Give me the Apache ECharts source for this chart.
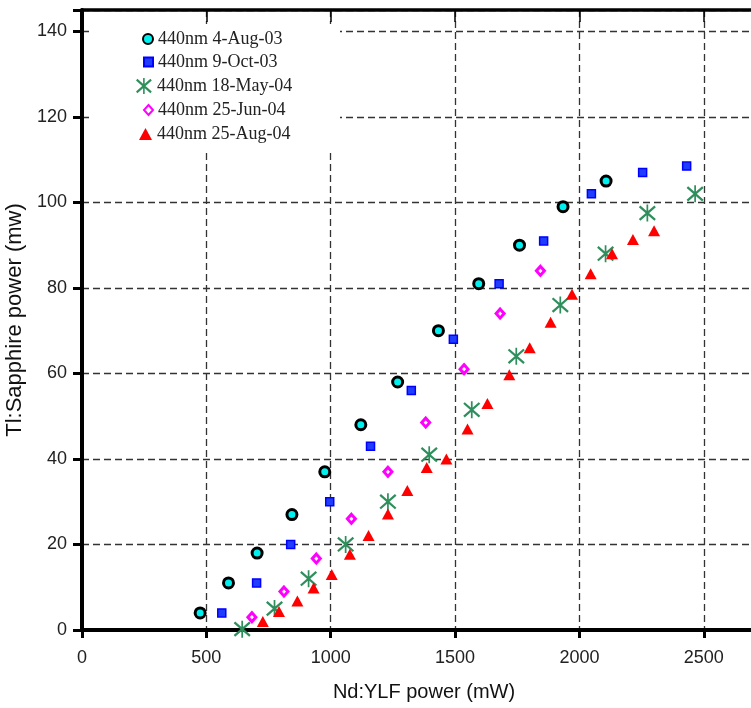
<!DOCTYPE html>
<html>
<head>
<meta charset="utf-8">
<script src="https://cdn.jsdelivr.net/npm/echarts@6/dist/echarts.min.js"></script>
<style>
html,body{margin:0;padding:0;background:#fff;}
#chart{width:751px;height:708px;}
</style>
</head>
<body>
<div id="chart"></div>
<script>
// Series names
var seriesNames = ['440nm 4-Aug-03', '440nm 9-Oct-03', '440nm 18-May-04', '440nm 25-Jun-04', '440nm 25-Aug-04'];

// 440nm 4-Aug-03 (circles)
var aug03X = [475, 589, 704, 844, 976, 1121, 1269, 1433, 1595, 1759, 1934, 2107];
var aug03Y = [4, 11, 18, 27, 37, 48, 58, 70, 81, 90, 99, 105];

// 440nm 9-Oct-03 (squares)
var oct03X = [562, 702, 839, 996, 1160, 1324, 1493, 1677, 1856, 2048, 2254, 2431];
var oct03Y = [4, 11, 20, 30, 43, 56, 68, 81, 91, 102, 107, 108.5];

// 440nm 18-May-04 (asterisks)
var may04X = [644, 774, 911, 1060, 1230, 1396, 1567, 1746, 1923, 2105, 2273, 2465];
var may04Y = [0.2, 5, 12, 20, 30, 41, 51.5, 64, 76, 88, 97.5, 102];

// 440nm 25-Jun-04 (hollow diamonds)
var jun04X = [683, 812, 942, 1083, 1230, 1382, 1536, 1681, 1843];
var jun04Y = [3, 9, 16.7, 26, 37, 48.5, 61, 74, 84];

// 440nm 25-Aug-04 (triangles)
var aug04X = [727, 792, 866, 931, 1004, 1077, 1152, 1230, 1308, 1386, 1465, 1550, 1630, 1718, 1800, 1884, 1970, 2045, 2131, 2215, 2300];
var aug04Y = [2, 4.3, 6.8, 9.8, 13, 17.7, 22.1, 27.1, 32.6, 38, 40, 47, 53, 59.7, 66, 72, 78.5, 83.3, 88, 91.3, 93.4];

// Axis settings
var xTickValues = [0, 500, 1000, 1500, 2000, 2500];
var yTickValues = [0, 20, 40, 60, 80, 100, 120, 140];
var xAxisTitle = 'Nd:YLF power (mW)';
var yAxisTitle = 'Tl:Sapphire power (mw)';

function pairs(xs, ys) { return xs.map(function (x, i) { return [x, ys[i]]; }); }

var asteriskPath = 'path://M9 0 L11 0 L11 20 L9 20 Z M1.86 1.03 L19.86 17.03 L18.14 18.97 L0.14 2.97 Z M19.86 2.97 L1.86 18.97 L0.14 17.03 L18.14 1.03 Z';

// legend layout (per item: icon box size, row centre)
var legendIconSizes = [[10, 10], [9, 9], [16, 16], [9, 10], [13, 12]];
var legendRowCentres = [39, 62, 86, 110, 134];
var legendTextLeft = 157;

var chart = echarts.init(document.getElementById('chart'), null, {renderer: 'canvas'});

var gridLine = {show: true, lineStyle: {color: '#333', width: 1.3, type: [7, 4]}};

var legends = seriesNames.map(function (name, i) {
  var w = legendIconSizes[i][0], h = legendIconSizes[i][1];
  return {
    orient: 'horizontal',
    left: legendTextLeft - 5 - w,
    top: legendRowCentres[i] - 10,
    padding: 0,
    itemWidth: w, itemHeight: h,
    textStyle: {fontFamily: 'Liberation Serif', fontSize: 18, color: '#222', lineHeight: 20},
    data: [name],
    z: 5
  };
});

chart.setOption({
  animation: false,
  backgroundColor: '#fff',
  grid: {left: 82, top: 10, right: -15, bottom: 78, containLabel: false, outerBoundsMode: 'none'},
  graphic: {elements: [{type: 'rect', left: 89, top: 24, z: 3,
    shape: {width: 251, height: 126}, style: {fill: '#fff'}}]},
  legend: legends,
  xAxis: [{
    type: 'value', min: 0, max: 2750, interval: 500, position: 'bottom',
    name: xAxisTitle, nameLocation: 'middle', nameGap: 52,
    nameTextStyle: {fontFamily: 'Liberation Sans', fontSize: 20, color: '#111'},
    axisLine: {show: true, onZero: false, lineStyle: {color: '#000', width: 4}},
    axisTick: {show: true, length: 8, lineStyle: {color: '#000', width: 3}},
    axisLabel: {margin: 19, fontFamily: 'Liberation Sans', fontSize: 18, color: '#222',
      formatter: function (v) { return xTickValues.indexOf(v) >= 0 ? String(v) : ''; }},
    splitLine: gridLine
  }, {
    type: 'value', min: 0, max: 2750, interval: 500, position: 'top',
    axisLine: {show: true, onZero: false, lineStyle: {color: '#000', width: 3.5}},
    axisTick: {show: true, inside: true, length: 12, lineStyle: {color: '#000', width: 1.5}},
    axisLabel: {show: false},
    splitLine: {show: false}
  }],
  yAxis: [{
    type: 'value', min: 0, max: 145, interval: 20, position: 'left',
    name: yAxisTitle, nameLocation: 'middle', nameGap: 52, nameRotate: 90,
    nameTextStyle: {fontFamily: 'Liberation Sans', fontSize: 22, color: '#111'},
    axisLine: {show: true, onZero: false, lineStyle: {color: '#000', width: 4}},
    axisTick: {show: true, length: 9, lineStyle: {color: '#000', width: 3}},
    axisLabel: {margin: 15, fontFamily: 'Liberation Sans', fontSize: 18, color: '#222',
      formatter: function (v) { return yTickValues.indexOf(v) >= 0 ? String(v) : ''; }},
    splitLine: gridLine
  }],
  series: [{
    name: seriesNames[0], type: 'scatter', data: pairs(aug03X, aug03Y),
    symbol: 'circle', symbolSize: 10,
    itemStyle: {color: '#00f0f0', borderColor: '#000', borderWidth: 3, opacity: 1}
  }, {
    name: seriesNames[1], type: 'scatter', data: pairs(oct03X, oct03Y),
    symbol: 'rect', symbolSize: 8,
    itemStyle: {color: '#1f3cff', borderColor: '#0000ff', borderWidth: 1.5, opacity: 1}
  }, {
    name: seriesNames[2], type: 'scatter', data: pairs(may04X, may04Y),
    symbol: asteriskPath, symbolSize: [17, 17],
    itemStyle: {color: '#2e8f5c', opacity: 1}
  }, {
    name: seriesNames[3], type: 'scatter', data: pairs(jun04X, jun04Y),
    symbol: 'diamond', symbolSize: [8, 9],
    itemStyle: {color: '#fff', borderColor: '#ff00ff', borderWidth: 3, opacity: 1}
  }, {
    name: seriesNames[4], type: 'scatter', data: pairs(aug04X, aug04Y),
    symbol: 'triangle', symbolSize: [12, 11],
    itemStyle: {color: '#ff0000', opacity: 1}
  }]
});
</script>
</body>
</html>
